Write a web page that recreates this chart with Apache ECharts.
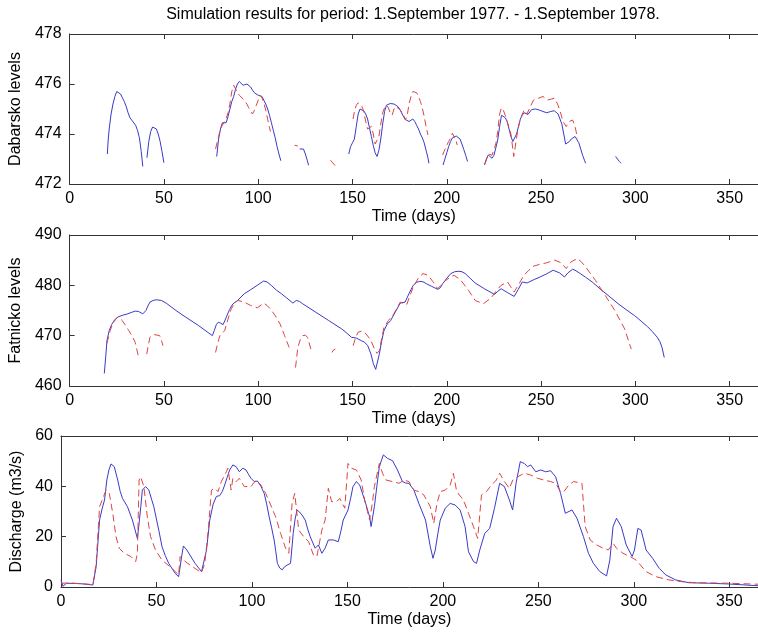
<!DOCTYPE html>
<html><head><meta charset="utf-8">
<script src="https://cdn.jsdelivr.net/npm/echarts@6/dist/echarts.min.js"></script>
<style>html,body{margin:0;padding:0;background:#fff}#c{width:758px;height:634px}</style>
</head><body><div id="c"></div>
<script>
// ---- Data (day, value); null marks a gap ----
const titleText = 'Simulation results for period: 1.September 1977. - 1.September 1978.';
const xName = 'Time (days)';
const yNames = ['Dabarsko levels', 'Fatnicko levels', 'Discharge (m3/s)'];
const xTicks = {min: 0, max: 365, interval: 50};
const yTicks = [{min: 472, max: 478, interval: 2}, {min: 460, max: 490, interval: 10}, {min: 0, max: 60, interval: 20}];

const dabarskoBlue = [
 [20,473.2],[20.5,473.8],[21,474.2],[22,474.8],[23,475.2],[24,475.5],[25,475.7],[26,475.72],[27,475.6],[28,475.45],[29,475.3],[30,475.1],[31,474.85],[32,474.65],[33,474.55],[34,474.5],[35,474.35],[36,474.15],[37,473.85],[38,473.3],[38.8,472.7],[40,null],
 [41,473.05],[42,473.7],[43,474.1],[44,474.28],[45,474.3],[46,474.2],[47,474.0],[48,473.7],[49,473.3],[50,472.85],[60,null],
 [78,473.1],[79,473.8],[80,474.2],[81,474.45],[82,474.5],[83,474.45],[84,474.7],[85,475.0],[86,475.3],[87,475.5],[88,475.8],[89,476.0],[90,476.1],[91,476.05],[92,475.95],[93,475.9],[94,476.0],[95,475.98],[96,475.88],[97,475.75],[98,475.65],[99,475.58],[100,475.55],[101,475.5],[102,475.5],[103,475.35],[104,475.2],[105,475.0],[106,474.75],[107,474.45],[108,474.15],[109,473.85],[110,473.5],[111,473.2],[112,472.93],[115,null],
 [122,473.4],[123,473.45],[124,473.4],[125,473.2],[126,472.95],[126.7,472.75],[135,null],
 [148,473.2],[149,473.5],[150,473.65],[151,473.8],[152,474.3],[153,474.8],[154,475.0],[155,475.02],[156,474.92],[157,474.8],[158,474.6],[159,474.25],[160,473.9],[161,473.55],[162,473.25],[163,473.1],[164,473.35],[165,473.8],[166,474.4],[167,474.9],[168,475.15],[169,475.2],[170,475.22],[171,475.2],[172,475.2],[173,475.15],[174,475.1],[175,475.0],[176,474.85],[177,474.7],[178,474.58],[179,474.52],[180,474.5],[181,474.55],[182,474.6],[183,474.5],[184,474.35],[185,474.2],[186,474.0],[187,473.85],[188,473.65],[189,473.35],[190,473.05],[190.5,472.83],[195,null],
 [198,472.76],[199,473.0],[200,473.25],[201,473.5],[202,473.7],[203,473.85],[204,473.92],[205,473.92],[206,473.9],[207,473.8],[208,473.6],[209,473.38],[210,473.15],[211,472.9],[215,null],
 [220,472.76],[221,473.0],[222,473.16],[223,473.1],[224,473.03],[225,473.15],[226,473.45],[227,473.76],[228,474.3],[229,474.75],[230,474.78],[231,474.65],[232,474.5],[233,474.2],[234,473.9],[235,473.7],[235.7,473.63],[237,474.0],[238,474.3],[239,474.6],[240,474.75],[241,474.85],[242,474.88],[243,474.78],[244,474.85],[245,474.98],[246,475.03],[247,475.0],[248,474.97],[249,474.96],[250,474.92],[251,474.9],[252,474.87],[253,474.85],[254,474.88],[255,474.9],[256,474.9],[257,474.93],[258,474.96],[259,474.8],[260,474.6],[261,474.4],[262,474.0],[263,473.6],[264,473.55],[265,473.7],[266,473.8],[267,473.88],[268,473.9],[269,473.82],[270,473.65],[271,473.4],[272,473.15],[273,472.95],[273.6,472.83],[280,null],
 [289.5,473.1],[290.5,473.0],[291.5,472.9],[292.4,472.83]
];
const dabarskoRed = [
 [77.4,473.4],[78,473.6],[79,473.9],[80,474.2],[81,474.35],[82,474.4],[83,474.6],[84,474.85],[85,475.2],[86,475.7],[87,475.95],[88,475.8],[89,475.65],[90,475.55],[91,475.5],[92,475.4],[93,475.35],[94,475.2],[95,475.05],[96,474.9],[97,474.8],[98,474.95],[99,475.15],[100,475.35],[101,475.55],[102,475.45],[103,475.25],[104,474.95],[105,474.6],[106,474.25],[106.5,474.1],[110,null],
 [119.3,473.55],[121,473.52],[130,null],
 [138.3,472.95],[139.5,472.85],[141,472.72],[145,null],
 [150.3,474.6],[151,474.9],[152,475.15],[153,475.25],[154,475.2],[155,475.1],[156,474.9],[157,474.5],[158,474.2],[159,474.15],[160,474.3],[161,474.0],[162,473.6],[163,473.55],[164,473.9],[165,474.4],[166,474.85],[167,475.05],[168,475.15],[169,475.05],[170,474.85],[171,474.75],[172,475.0],[173,475.1],[174,475.05],[175,474.98],[176,474.95],[177,474.8],[178,474.56],[179,474.75],[180,475.2],[181,475.5],[182,475.7],[183,475.78],[184,475.65],[185,475.5],[186,475.3],[187,475.05],[188,474.7],[189,474.3],[190,473.96],[194,null],
 [197.8,473.16],[198.5,473.3],[199.5,473.45],[200.3,473.6],[201,473.7],[202,473.85],[203,474.03],[204,473.95],[205,473.7],[205.5,473.56],[215,null],
 [220.2,472.8],[222,473.2],[224,473.15],[226,473.6],[227,474.1],[228,474.8],[229,475.05],[230,474.95],[231,474.75],[232,474.5],[233,474.25],[234,474.0],[235,473.4],[235.5,473.1],[236.5,473.6],[237.5,474.1],[238.5,474.45],[239.5,474.7],[241,474.96],[242.5,474.8],[244,475.05],[246,475.36],[248.5,475.43],[251,475.5],[253.5,475.36],[255.5,475.4],[257.2,475.43],[259,475.15],[260.5,474.8],[261.6,474.5],[263.3,474.3],[265,474.5],[266.7,474.56],[268,474.3],[269.3,473.83]
];
const fatnickoBlue = [
 [18.4,462.5],[19.2,466],[19.8,469],[21,471],[22.3,472.2],[23.6,473],[24.9,473.5],[26.2,473.8],[28.4,474.1],[30.5,474.3],[32.6,474.6],[34.8,474.87],[36.6,474.8],[38.8,474.33],[40.5,475],[41.5,475.9],[42.6,476.67],[44.3,477.0],[46,477.13],[48.6,477.0],[51.2,476.47],[56.4,475.0],[61.6,473.67],[68.4,472],[75.7,470],[76.7,471],[77.8,472.2],[78.8,472.67],[80,472.5],[81.4,472.2],[83.1,473.67],[84.8,475.2],[86.6,476.33],[89.1,477],[92.6,478.33],[96,479.13],[99.5,480],[102.9,480.87],[104.7,480.67],[107.2,479.9],[109.8,479],[112.4,478.3],[115,477.53],[118.4,476.47],[120.2,477],[121.9,476.8],[123.6,476.33],[130.5,474.67],[137.4,473],[144.3,471.33],[147,470.5],[149.5,469.67],[152,469.53],[154.7,469.0],[156.4,468.7],[158.1,468],[159.8,466.33],[161,464.5],[162.3,463.3],[163.3,463.5],[164.2,466.3],[165.5,469],[166.7,471],[168.4,472.3],[170.2,473],[172.7,474.7],[175.3,476.47],[177.9,476.67],[180,478.4],[182.2,480],[184,480.6],[185.7,480.8],[187.4,480.7],[189.1,480.33],[192,479.8],[195.2,479.2],[196.5,479.5],[197.8,480.33],[200,481.4],[202.1,482.33],[204.2,482.7],[206.4,482.8],[208,482.7],[209.8,482.33],[212.4,481.4],[215,480.47],[220,479.3],[225.3,478.2],[227,478.8],[228.8,479.33],[232,478.6],[235.7,477.8],[237.9,479.2],[240,480.67],[242.6,480.47],[246,481.1],[249.5,481.67],[253,482.3],[256.4,483],[257.2,483.13],[259.8,482.47],[262.4,481.67],[264.2,482.47],[266.7,483.2],[268.5,482.9],[270.2,482.47],[273.6,481.6],[277.1,480.67],[282.2,479],[286.5,477.7],[290.9,476.33],[295,475.2],[299.5,474],[303,472.9],[306.4,471.8],[309,470.8],[311.6,469.67],[313,468.8],[314.1,467.67],[315.3,465.67]
];
const fatnickoRed = [
 [19.8,468.5],[21.5,471],[23,472.5],[25.3,473.67],[26.5,473.5],[27.9,473],[29.7,472],[31.4,471],[33,470],[34.8,468.67],[36.6,465.67],[38.8,null],
 [40.9,466.33],[41.7,468],[42.6,469.67],[43.9,470.1],[45.2,470.2],[47.8,470],[48.6,469.2],[49.5,468],[60,null],
 [77.4,466.67],[78.5,468.5],[79.7,470],[82.2,471],[84,473.3],[85.7,475.33],[87.4,476.3],[89.1,477],[92.6,476.67],[96,476],[99.5,475.53],[102.9,476.47],[104.7,476],[106.4,475.33],[109,474],[111.6,472.33],[114,470],[116.4,467.67],[118,null],
 [119.8,463.67],[121,467.67],[122.3,469.2],[123.6,470],[124.9,470.1],[126.2,469.67],[127.9,467.33],[133,null],
 [139.1,466.67],[140,467.2],[140.9,467.33],[145,null],
 [150.3,468],[151.6,469.5],[152.9,470.67],[154.7,470.9],[156.4,470.67],[158.1,469.9],[159.8,469],[161.5,467.5],[163,466.5],[164.2,467],[165.5,469.5],[166.7,471.67],[169,473],[171.9,474.33],[175.3,476.67],[178.8,476.2],[180.5,478],[182.2,479.67],[185,481.5],[187.4,482.33],[190,482],[192.5,480.8],[195.2,479.33],[197.3,480.2],[199.5,481],[201.7,481.6],[203.8,482],[207.2,481.13],[209.3,480.1],[211.5,479],[215,477],[219.3,476.33],[223.6,477.53],[226,478.8],[228.8,480],[232.2,480.67],[235.7,478.67],[238.3,480.3],[240.9,482],[243.5,483],[246,483.8],[249.5,484.2],[252.9,484.47],[257.2,485],[260.7,484.47],[263.3,483.33],[265.9,484.67],[269.3,485.33],[271.5,484.6],[273.6,483.67],[278.8,481],[284,478],[289.1,475],[294.3,471.33],[297.8,467.33]
];
const dischargeBlue = [
 [0,2.8],[1,0.3],[2,0.2],[3,1.5],[8,1.4],[12,1.2],[16.7,0.8],[18.4,8],[20.2,26.6],[21.5,31],[22.8,34.6],[24,42.5],[25.1,46.5],[26.2,48.9],[27.9,47.8],[29.7,42.5],[31,38],[32.2,35.2],[34.8,31.9],[37.4,26.6],[40,19.3],[40.9,25.3],[41.8,32],[42.6,38.5],[44.3,39.9],[46,38.5],[48.6,31.9],[51.2,22.6],[52.9,16],[54.6,12.5],[56.4,9.4],[59.8,5.4],[61.6,4.1],[62.5,4.1],[63.3,12.7],[64.1,16.3],[65.9,14.7],[70.2,9.4],[73.6,6.1],[74.5,6.1],[76.2,14.7],[77.9,26.6],[79.7,33],[81.4,36],[83.1,36.3],[84.5,38],[85.7,40.5],[87,43.5],[88.3,46.5],[90,48.5],[91.7,47.8],[93.4,45.8],[95.2,47.2],[96.9,46.5],[98,45],[99.5,43.2],[101.2,41.9],[102.9,42.1],[104.7,40],[106.4,37.2],[107.7,33],[109,27.9],[110.3,23.5],[111.6,18.7],[112.5,14],[113.3,9.4],[114.6,7.5],[115.9,6.8],[117,8],[118.4,8.7],[120.2,9.4],[121.6,21.3],[122.6,27],[123.6,30.6],[124.9,29.8],[126.2,28.6],[127.9,26.6],[129.2,23],[130.5,20],[133.1,15.4],[134.8,16.7],[136.6,13.4],[138.3,15.4],[140,18.7],[142.6,18.7],[145.2,18],[146.5,22],[147.8,26.6],[150.3,30.6],[151.6,35],[152.9,39.9],[154.7,41.9],[156.4,40.5],[159,34.6],[161.6,27.9],[162.4,24],[164.1,31.9],[165.4,40],[166.7,47.8],[168.8,52.5],[171,51.1],[173.6,50.2],[176.2,46.5],[178.8,41.9],[180.5,41.3],[182.2,41.2],[184.8,38.5],[187.4,33.2],[190.9,26.6],[193.4,16],[194.8,11.4],[196,14.7],[197.3,21],[198.6,26.6],[201.2,31.3],[203.8,33.2],[206.4,32.6],[209,30.6],[211.6,24],[213.4,14],[216,10.1],[217.6,9.4],[219.3,14.7],[221.9,21.3],[224.5,23.3],[227,31.3],[229.7,41.2],[232.2,39.9],[234.8,34.6],[236.5,30.6],[238.3,41.2],[240.5,49.8],[242.6,49.1],[244.3,47.8],[246,48.5],[248.6,45.8],[251.2,46.5],[253.8,45.8],[256.4,46.2],[259,43.8],[261.6,37.2],[264.1,29.3],[267.6,30.6],[270.2,27.3],[273.6,20],[276.2,13.4],[278.8,9.4],[282.2,6.1],[285.7,4.4],[287.4,10.7],[289.1,24],[290.9,27.3],[293.4,24],[296,16.7],[299.1,12.1],[300.3,14.7],[302.1,23.3],[303.8,22.6],[306.4,14.7],[309.8,11.4],[313.3,7.4],[316.7,4.8],[321.9,2.8],[328.8,1.7],[339.2,1.5],[349.5,1.2],[365,0.5]
];
const dischargeRed = [
 [0,1.5],[5,1.6],[10,1.3],[16.7,1],[18.4,9.4],[20.2,31.9],[21.9,35.2],[23.6,38.5],[25.3,37.2],[27.1,29.3],[28.8,20],[30.5,15.4],[33.1,13.4],[36.6,12.1],[39.1,10.1],[40,13.4],[40.9,42.5],[41.7,43.8],[43.4,39.9],[45.2,27.9],[46.9,20],[49.5,14.7],[52.9,10.7],[58.1,7.4],[61.6,4.8],[62.4,12.1],[64.1,10.7],[67.6,8.7],[73.6,5.7],[75.3,9.4],[77.1,22.6],[78.8,38.5],[80.5,39.2],[82.2,37.9],[84,41.9],[86.6,45.8],[87.4,47.2],[89.1,38.5],[90,43.2],[91.7,41.9],[93.4,43.2],[96,39.9],[99.5,39.9],[102.1,42.5],[104.7,40.5],[107.2,37.2],[109.8,32.6],[112.4,27.9],[115,21.3],[117.6,15.4],[119.3,13.4],[121,33.2],[122.4,37.2],[124.5,22.6],[127.1,20],[129.7,18],[132.2,12.7],[134,12.1],[136.6,22.6],[138.3,26.6],[140,39.2],[141.7,33.9],[144.3,33.9],[146,35.2],[148.6,31.3],[150.3,49.1],[152.1,47.2],[154.7,46.5],[157.2,42.5],[159,34.6],[160.5,30],[161.6,26.6],[163,33],[164.1,39.9],[166.7,49.1],[168.4,45.2],[170.2,42.5],[173.6,41.9],[177,41.2],[179.7,42.5],[182.2,41.9],[184.8,38.5],[187.4,37.9],[190,36.6],[193.4,31.9],[195.2,25.3],[196.9,33.2],[198.6,37.9],[201.2,38.5],[203.8,40.5],[205.5,45.2],[207.2,37.9],[210.7,34.6],[213.4,29.3],[216,24],[218.2,19.3],[220.2,36.6],[222.8,37.9],[225.4,40.5],[228,42.5],[229.7,45.2],[232.2,41.9],[234.8,39.2],[236.6,42.5],[239.1,43.8],[242.6,45.2],[246,44.5],[249.5,43.2],[252.9,42.5],[256.4,41.9],[259,41.2],[261.6,37.9],[263.3,37.9],[265.9,40.5],[268.4,41.9],[272.8,41.2],[274.5,24],[277.1,18.7],[280.5,16.7],[284,15.4],[286.6,14.7],[289.1,17.4],[290.9,15.4],[294.3,13.4],[298.6,11.8],[301.2,10.7],[306.4,6.1],[311.6,4.1],[318.4,2.8],[325.3,2.1],[332.2,1.7],[349.5,1.5],[365,1.1]
];

// ---- Chart ----
const FONT = '"Liberation Sans", Arial, Helvetica, sans-serif';
const AX = '#333';
const BLUE = '#3a3ac8';
const RED = '#dd4444';
const grids = [
  {left: 61, top: 34, width: 705.7, height: 150},
  {left: 61, top: 235, width: 705.7, height: 151},
  {left: 61, top: 436, width: 705.7, height: 151}
];
const yNameGaps = [34, 34, 25];
const toData = arr => arr.map(p => [p[0], p[1] === null ? '-' : p[1]]);

const xAxes = [], yAxes = [];
grids.forEach((g, i) => {
  xAxes.push({
    gridIndex: i, type: 'value', min: xTicks.min, max: xTicks.max, interval: xTicks.interval, position: 'bottom',
    axisLine: {show: true, onZero: false, lineStyle: {color: AX, width: 1}},
    axisTick: {show: true, inside: true, length: 5, lineStyle: {color: AX}},
    axisLabel: {color: '#000', fontSize: 16, fontFamily: FONT, margin: 7, showMaxLabel: false},
    splitLine: {show: false},
    name: xName, nameLocation: 'middle', nameGap: 25,
    nameTextStyle: {color: '#000', fontSize: 16, fontFamily: FONT}
  });
  xAxes.push({
    gridIndex: i, type: 'value', min: xTicks.min, max: xTicks.max, interval: xTicks.interval, position: 'top',
    axisLine: {show: true, onZero: false, lineStyle: {color: AX, width: 1}},
    axisTick: {show: true, inside: true, length: 5, lineStyle: {color: AX}},
    axisLabel: {show: false}, splitLine: {show: false}
  });
  yAxes.push({
    gridIndex: i, type: 'value', min: yTicks[i].min, max: yTicks[i].max, interval: yTicks[i].interval, position: 'left',
    axisLine: {show: true, onZero: false, lineStyle: {color: AX, width: 1}},
    axisTick: {show: true, inside: true, length: 5, lineStyle: {color: AX}},
    axisLabel: {color: '#000', fontSize: 16, fontFamily: FONT, margin: 8},
    splitLine: {show: false},
    name: yNames[i], nameLocation: 'middle', nameGap: yNameGaps[i],
    nameTextStyle: {color: '#000', fontSize: 16, fontFamily: FONT}
  });
});

const mk = (data, i, color, dashed) => ({
  type: 'line', xAxisIndex: i * 2, yAxisIndex: i, data: toData(data),
  showSymbol: false, symbol: 'none', connectNulls: false, animation: false,
  lineStyle: {color: color, width: 1, type: dashed ? [7, 4] : 'solid'},
  itemStyle: {color: color}, z: dashed ? 3 : 2
});

const chart = echarts.init(document.getElementById('c'), null, {renderer: 'canvas'});
chart.setOption({
  animation: false,
  backgroundColor: '#fff',
  grid: grids,
  xAxis: xAxes,
  yAxis: yAxes,
  graphic: [{
    type: 'text', x: 413, y: 15,
    style: {text: titleText, fill: '#000', fontSize: 16, fontFamily: FONT, align: 'center', verticalAlign: 'middle'}
  }],
  series: [
    mk(dabarskoBlue, 0, BLUE, false), mk(dabarskoRed, 0, RED, true),
    mk(fatnickoBlue, 1, BLUE, false), mk(fatnickoRed, 1, RED, true),
    mk(dischargeBlue, 2, BLUE, false), mk(dischargeRed, 2, RED, true)
  ]
});
</script></body></html>
